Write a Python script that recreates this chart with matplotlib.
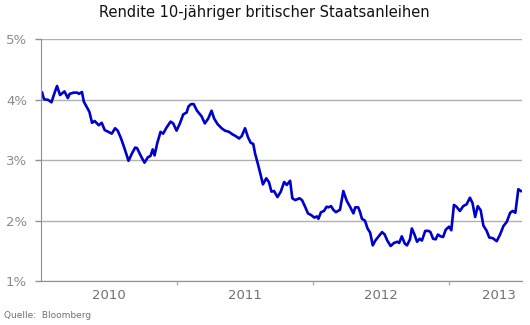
import matplotlib
matplotlib.use('Agg')
import matplotlib.pyplot as plt
import matplotlib.dates as mdates
import pandas as pd

# weekly-ish closing yields, in percent
dates = [
    "2010-01-04", "2010-01-09", "2010-01-20", "2010-01-29", "2010-02-06", "2010-02-13",
    "2010-02-21", "2010-03-05", "2010-03-14", "2010-03-19", "2010-03-30", "2010-04-08",
    "2010-04-13", "2010-04-21", "2010-04-26", "2010-05-03", "2010-05-11", "2010-05-18",
    "2010-05-25", "2010-06-05", "2010-06-13", "2010-06-21", "2010-07-01", "2010-07-10",
    "2010-07-19", "2010-07-26", "2010-08-04", "2010-08-13", "2010-08-24", "2010-09-02",
    "2010-09-11", "2010-09-16", "2010-09-27", "2010-10-06", "2010-10-15", "2010-10-22",
    "2010-10-28", "2010-11-02", "2010-11-09", "2010-11-18", "2010-11-25", "2010-12-04",
    "2010-12-15", "2010-12-22", "2010-12-31",
    "2011-01-09", "2011-01-18", "2011-01-27", "2011-02-01", "2011-02-08", "2011-02-15",
    "2011-02-24", "2011-03-08", "2011-03-17", "2011-03-26", "2011-04-04", "2011-04-11",
    "2011-04-20", "2011-05-01", "2011-05-10", "2011-05-21", "2011-05-30", "2011-06-08",
    "2011-06-17", "2011-06-24", "2011-07-03", "2011-07-11", "2011-07-18", "2011-07-25",
    "2011-07-30", "2011-08-06", "2011-08-13", "2011-08-20", "2011-08-29", "2011-09-05",
    "2011-09-12", "2011-09-19", "2011-09-28", "2011-10-07", "2011-10-16", "2011-10-23",
    "2011-11-01", "2011-11-07", "2011-11-15", "2011-11-26", "2011-12-03", "2011-12-12",
    "2011-12-19", "2011-12-28",
    "2012-01-05", "2012-01-12", "2012-01-16", "2012-01-23", "2012-01-31", "2012-02-07",
    "2012-02-12", "2012-02-19", "2012-02-25", "2012-03-03", "2012-03-14", "2012-03-23",
    "2012-04-01", "2012-04-10", "2012-04-19", "2012-04-24", "2012-05-02", "2012-05-07",
    "2012-05-12", "2012-05-20", "2012-05-27", "2012-06-03", "2012-06-10", "2012-06-17",
    "2012-06-26", "2012-07-05", "2012-07-12", "2012-07-19", "2012-07-28", "2012-08-06",
    "2012-08-15", "2012-08-20", "2012-08-27", "2012-09-04", "2012-09-10", "2012-09-18",
    "2012-09-23", "2012-09-30", "2012-10-07", "2012-10-14", "2012-10-20", "2012-10-29",
    "2012-11-07", "2012-11-12", "2012-11-19", "2012-11-26", "2012-12-02", "2012-12-09",
    "2012-12-16", "2012-12-23",
    "2013-01-01", "2013-01-07", "2013-01-14", "2013-01-21", "2013-01-30", "2013-02-08",
    "2013-02-17", "2013-02-26", "2013-03-05", "2013-03-12", "2013-03-19", "2013-03-27",
    "2013-04-03", "2013-04-12", "2013-04-19", "2013-04-28", "2013-05-09", "2013-05-18",
    "2013-05-27", "2013-06-05", "2013-06-14", "2013-06-21", "2013-06-28", "2013-07-06",
    "2013-07-13",
]
yields = [
    4.12, 4.01, 4.00, 3.96, 4.11, 4.23,
    4.08, 4.14, 4.03, 4.10, 4.12, 4.12,
    4.10, 4.13, 3.97, 3.89, 3.80, 3.62,
    3.65, 3.58, 3.62, 3.50, 3.47, 3.44,
    3.53, 3.49, 3.36, 3.20, 2.99, 3.11,
    3.21, 3.20, 3.06, 2.96, 3.05, 3.07,
    3.18, 3.08, 3.28, 3.47, 3.44, 3.54,
    3.64, 3.61, 3.49,
    3.61, 3.76, 3.79, 3.89, 3.93, 3.93,
    3.82, 3.73, 3.61, 3.69, 3.82, 3.69,
    3.60, 3.53, 3.49, 3.47, 3.43, 3.40,
    3.36, 3.40, 3.53, 3.38, 3.29, 3.27,
    3.11, 2.95, 2.78, 2.60, 2.70, 2.64,
    2.48, 2.49, 2.39, 2.48, 2.64, 2.59,
    2.66, 2.37, 2.34, 2.37, 2.34, 2.22,
    2.12, 2.09,
    2.05, 2.07, 2.03, 2.14, 2.16, 2.23,
    2.22, 2.24, 2.18, 2.14, 2.18, 2.49,
    2.33, 2.23, 2.12, 2.22, 2.22, 2.14,
    2.03, 2.00, 1.87, 1.80, 1.59, 1.67,
    1.74, 1.81, 1.77, 1.67, 1.58, 1.63,
    1.65, 1.63, 1.74, 1.62, 1.59, 1.69,
    1.87, 1.77, 1.65, 1.70, 1.67, 1.83,
    1.83, 1.81, 1.70, 1.69, 1.77, 1.74,
    1.73, 1.85,
    1.90, 1.84, 2.26, 2.23, 2.16, 2.24,
    2.27, 2.38, 2.29, 2.06, 2.24, 2.17,
    1.92, 1.83, 1.72, 1.71, 1.66, 1.77,
    1.91, 1.98, 2.13, 2.16, 2.13, 2.52,
    2.49,
]
y_ticks = [1, 2, 3, 4, 5]
year_labels = ["2010", "2011", "2012", "2013"]
year_label_pos = ["2010-07-02", "2011-07-02", "2012-07-02", "2013-05-15"]
year_bounds = ["2011-01-01", "2012-01-01", "2013-01-01"]

x = pd.to_datetime(dates)

fig = plt.figure(figsize=(5.3, 3.25), dpi=100)
ax = fig.add_axes([0.0774, 0.1354, 0.9076, 0.7431])

ax.plot(x, yields, color='#0000cc', linewidth=1.9, solid_joinstyle='round')

ax.set_xlim(pd.Timestamp("2010-01-01"), pd.Timestamp("2013-07-16"))
ax.set_ylim(1, 5)

ax.set_yticks(y_ticks)
ax.set_yticklabels([f"{v}%" for v in y_ticks])
ax.tick_params(axis='y', length=4, width=1, color='#909090', pad=6,
               labelsize=9.5, labelcolor='#8a8a8a')
ax.yaxis.grid(True, color='#b0b0b0', linewidth=1)

# year boundaries get small ticks, labels sit mid-year
ax.set_xticks(pd.to_datetime(year_bounds))
ax.set_xticklabels([])
ax.set_xticks(pd.to_datetime(year_label_pos), minor=True)
ax.set_xticklabels(year_labels, minor=True)
ax.tick_params(axis='x', which='major', length=3, width=1, color='#b0b0b0')
ax.tick_params(axis='x', which='minor', length=0, pad=6,
               labelsize=9.5, labelcolor='#707070')

for side in ['top', 'right']:
    ax.spines[side].set_visible(False)
ax.spines['left'].set_color('#909090')
ax.spines['bottom'].set_color('#909090')
ax.set_axisbelow(True)

fig.text(0.499, 0.961, "Rendite 10-jähriger britischer Staatsanleihen",
         ha='center', va='center', fontsize=10.5, color='#111111')
fig.text(0.008, 0.016, "Quelle:  Bloomberg", ha='left', va='bottom',
         fontsize=6.5, color='#707070')

fig.savefig("out.png", dpi=100)
